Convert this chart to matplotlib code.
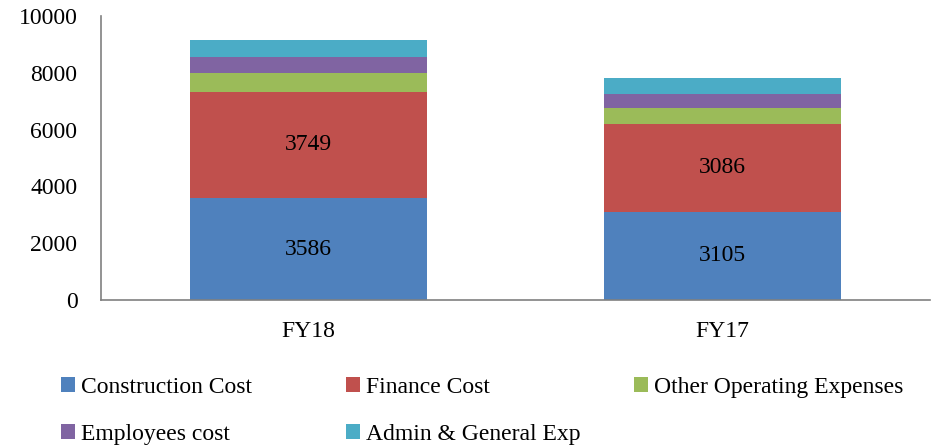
import numpy as np
import matplotlib.pyplot as plt
from matplotlib.patches import Patch

plt.rcParams["font.family"] = ["Liberation Serif", "DejaVu Serif"]

years = ["FY18", "FY17"]
series_names = [
    "Construction Cost",
    "Finance Cost",
    "Other Operating Expenses",
    "Employees cost",
    "Admin & General Exp",
]
construction = [3586, 3105]
finance = [3749, 3086]
other_opex = [650, 575]
employees = [565, 505]
admin = [605, 550]

colors = ["#4F81BD", "#C0504D", "#9BBB59", "#8064A2", "#4BACC6"]
labelled = {0, 1}  # only the first two series carry data labels

fig = plt.figure(figsize=(9.34, 4.45), dpi=100)
ax = fig.add_axes([101 / 934, 1 - 300 / 445, 829 / 934, 284 / 445])

x = np.arange(len(years))
bottom = np.zeros(len(years))
handles = []
for k, (name, vals) in enumerate(zip(series_names,
                                     [construction, finance, other_opex, employees, admin])):
    vals = np.array(vals, dtype=float)
    ax.bar(x, vals, width=0.572, bottom=bottom, color=colors[k], linewidth=0)
    if k in labelled:
        for xi, b, v in zip(x, bottom, vals):
            ax.text(xi, b + v / 2, f"{int(v)}", ha="center", va="center",
                    fontsize=17, color="black")
    handles.append(Patch(facecolor=colors[k], label=name))
    bottom += vals

ax.set_xlim(-0.5, 1.5)
ax.set_ylim(0, 10000)
ax.set_yticks(np.arange(0, 10001, 2000))
ax.set_xticks(x)
ax.set_xticklabels(years)
ax.tick_params(axis="both", length=0, labelsize=17, colors="black")
ax.tick_params(axis="y", pad=17)
ax.tick_params(axis="x", pad=15)
for s in ["top", "right"]:
    ax.spines[s].set_visible(False)
for s in ["left", "bottom"]:
    ax.spines[s].set_color("#808080")
    ax.spines[s].set_linewidth(1.2)

# legend: three columns placed individually
col_x = [49, 334, 622]
cols = [[0, 3], [1, 4], [2]]
for cx, idx in zip(col_x, cols):
    fig.legend(handles=[handles[i] for i in idx], loc="upper left",
               bbox_to_anchor=(cx / 934, 1 - 365 / 445), frameon=False,
               fontsize=17, handlelength=0.6, handleheight=0.6,
               handletextpad=0.25, labelspacing=1.12, borderpad=0)

fig.savefig("out.png", dpi=100)
